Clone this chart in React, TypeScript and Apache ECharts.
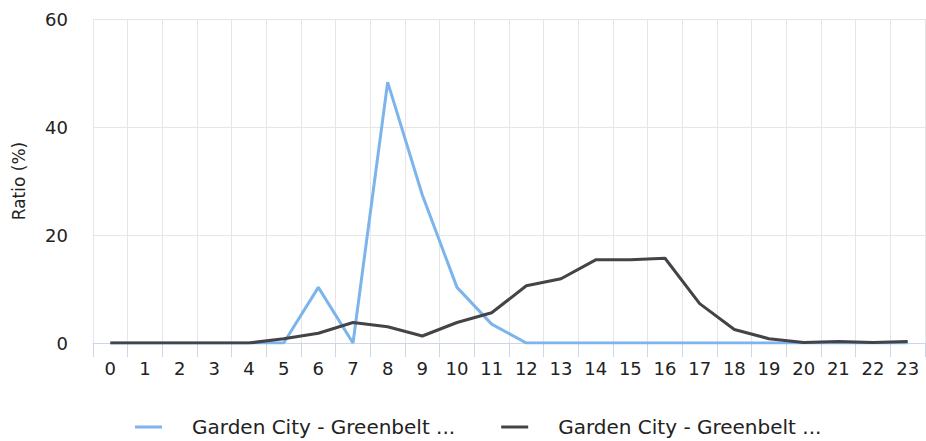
import React, { useEffect, useRef } from "react";
import * as echarts from "echarts";

const hours = ["0","1","2","3","4","5","6","7","8","9","10","11","12","13","14","15","16","17","18","19","20","21","22","23"];
const seriesNames = ["Garden City - Greenbelt 1", "Garden City - Greenbelt 2"];
const legendLabel = "Garden City - Greenbelt ...";
const blueValues = [0,0,0,0,0,0,10.3,0,48.3,27.4,10.3,3.5,0,0,0,0,0,0,0,0,0,0,0,0];
const darkValues = [0,0,0,0,0,0.8,1.8,3.8,3.0,1.3,3.8,5.6,10.6,11.9,15.4,15.4,15.7,7.3,2.5,0.8,0.1,0.3,0.1,0.3];
const yTicks = { min: 0, max: 60, interval: 20 };

const FONT = "'DejaVu Sans', sans-serif";

export default function App() {
  const ref = useRef<HTMLDivElement>(null);
  useEffect(() => {
    const chart = echarts.init(ref.current!, null, { renderer: "svg" });
    chart.setOption({
      animation: false,
      textStyle: { fontFamily: FONT },
      grid: { left: 93, right: 1, top: 19, bottom: 98 },
      legend: {
        left: 135,
        top: 417,
        padding: 0,
        icon: "rect",
        itemWidth: 27,
        itemHeight: 3,
        itemGap: 46,
        formatter: () => legendLabel,
        textStyle: { fontSize: 20, color: "#222", fontFamily: FONT, padding: [0, 0, 0, 25] },
        data: seriesNames,
      },
      xAxis: {
        type: "category",
        data: hours,
        boundaryGap: true,
        axisLine: { lineStyle: { color: "#ccd6eb", width: 1 } },
        axisTick: { show: true, length: 14, lineStyle: { color: "#ccd6eb" } },
        axisLabel: { fontSize: 18, color: "#222", margin: 16, interval: 0, fontFamily: FONT },
        splitLine: { show: true, lineStyle: { color: "#e6e6e6", width: 1 } },
      },
      yAxis: {
        type: "value",
        min: yTicks.min,
        max: yTicks.max,
        interval: yTicks.interval,
        name: "Ratio (%)",
        nameLocation: "middle",
        nameGap: 66,
        nameTextStyle: { fontSize: 17, color: "#222", fontFamily: FONT },
        axisLine: { show: false },
        axisTick: { show: false },
        axisLabel: { fontSize: 18, color: "#222", margin: 25, fontFamily: FONT },
        splitLine: { show: true, lineStyle: { color: "#e6e6e6", width: 1 } },
      },
      series: [
        {
          name: seriesNames[0],
          type: "line",
          data: blueValues,
          symbol: "none",
          lineStyle: { color: "#7cb5ec", width: 3 },
          itemStyle: { color: "#7cb5ec" },
        },
        {
          name: seriesNames[1],
          type: "line",
          data: darkValues,
          symbol: "none",
          lineStyle: { color: "#434348", width: 3 },
          itemStyle: { color: "#434348" },
        },
      ],
    });
    return () => chart.dispose();
  }, []);
  return <div ref={ref} style={{ width: 926, height: 441, position: "absolute", left: 0, top: 0 }} />;
}
